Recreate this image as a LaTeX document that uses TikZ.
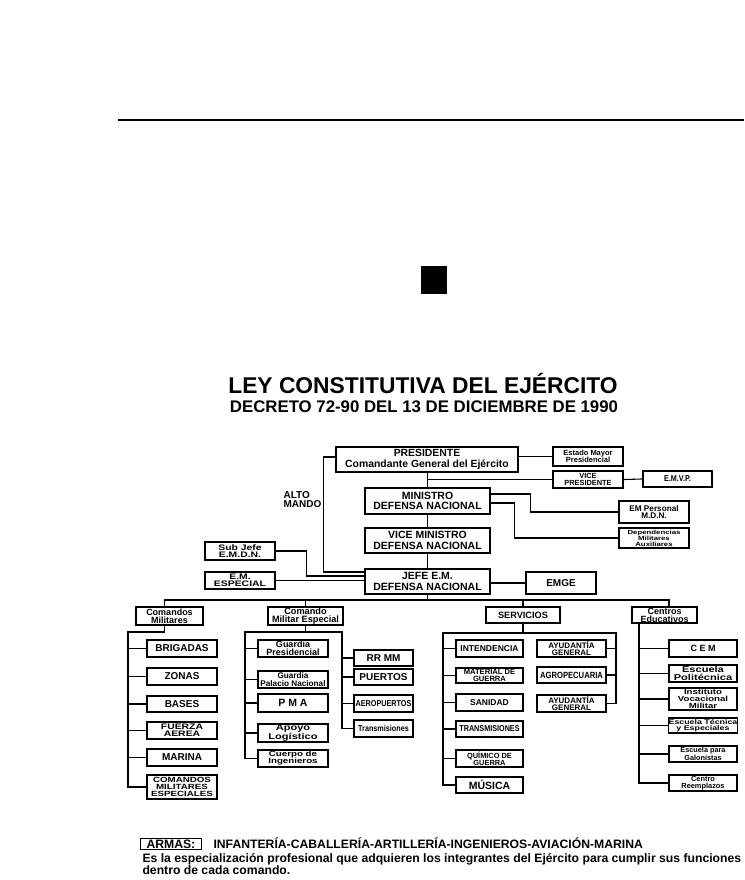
\documentclass[tikz,border=0pt]{standalone}
\usepackage{fontspec}
\setmainfont{Liberation Sans}
\newfontfamily\narrowfont[FakeStretch=0.85]{Liberation Sans}
\newfontfamily\widefont[FakeStretch=1.3]{Liberation Sans}
\newcommand\fz[2]{\fontsize{#1}{#2}\selectfont}

\begin{document}
\begin{tikzpicture}[x=1pt, y=-1pt,
    org/.style={draw, line width=1.4pt, inner sep=0pt, align=center, font=\bfseries},
    heavy/.style={org, line width=2.6pt},
    link/.style={line width=1.1pt},
    sz/.style 2 args={font=\bfseries\fz{#1}{#2}},
    nsz/.style 2 args={font=\narrowfont\bfseries\fz{#1}{#2}},
    wsz/.style 2 args={font=\widefont\bfseries\fz{#1}{#2}},
    cmcol/.style={org, minimum width=70, minimum height=17},
    mecol/.style={org, minimum width=59, minimum height=17},
    svcol/.style={org, minimum width=67, minimum height=17},
    aycol/.style={org, minimum width=69, minimum height=17},
    cecol/.style={org, minimum width=68, minimum height=16}]
    \fill[white] (0,0) rectangle (744,880);
    \useasboundingbox (0,0) rectangle (744,880);
    % page rule and mark
    \draw[line width=1.6pt] (118,120) -- (744,120);
    \fill (421,266) rectangle (447,294);
    % Title
    \node[anchor=base, font=\bfseries\fz{22.8}{24}] (title) at (423,393) {LEY CONSTITUTIVA DEL EJÉRCITO};
    \node[anchor=base, font=\bfseries\fz{16.8}{18}] (subtitle) at (424,412) {DECRETO 72-90 DEL 13 DE DICIEMBRE DE 1990};
    % Alto mando
    \node[heavy, minimum width=182, minimum height=25, sz={10.4}{10.5}] (pres) at (427,459.5) {PRESIDENTE\\Comandante General del Ejército};
    \node[heavy, line width=2pt, minimum width=70, minimum height=19, sz={7.5}{7}] (emp) at (588,456.5) {Estado Mayor\\Presidencial};
    \node[heavy, line width=2.2pt, minimum width=70, minimum height=17, sz={7.4}{6.8}] (vpres) at (588,479.5) {VICE\\PRESIDENTE};
    \node[heavy, line width=2pt, minimum width=69, minimum height=16, nsz={8.5}{8}] (emvp) at (677.5,479) {E.M.V.P.};
    \node[heavy, line width=2.8pt, minimum width=125, minimum height=26, sz={10.5}{10.5}] (min) at (427.5,501) {MINISTRO\\DEFENSA NACIONAL};
    \node[heavy, minimum width=70, minimum height=22, sz={8.2}{7.5}] (empers) at (654,512) {EM Personal\\M.D.N.};
    \node[heavy, minimum width=70, minimum height=20, wsz={6}{5.5}] (depmil) at (654,538) {Dependencias\\Militares\\Auxiliares};
    \node[heavy, line width=2pt, minimum width=125, minimum height=25, sz={10.5}{10.5}] (vmin) at (427.5,540.5) {VICE MINISTRO\\DEFENSA NACIONAL};
    \node[heavy, minimum width=125, minimum height=25, sz={10.5}{10.5}] (jefe) at (427.5,581.5) {JEFE E.M.\\DEFENSA NACIONAL};
    \node[heavy, minimum width=70, minimum height=18, wsz={8}{7}] (subjefe) at (240,551) {Sub Jefe\\E.M.D.N.};
    \node[org, minimum width=70, minimum height=17, wsz={8}{7}] (emesp) at (240,580.5) {E.M.\\ESPECIAL};
    \node[heavy, line width=2.2pt, minimum width=70, minimum height=22, sz={10}{10}] (emge) at (561,583) {EMGE};
    \node[anchor=west, align=left, sz={10}{9}] (alto) at (280,500) {ALTO\\MANDO};
    % Second level
    \node[org, minimum width=67, minimum height=18, sz={9}{8}] (cmil) at (169.5,616) {Comandos\\Militares};
    \node[org, minimum width=75, minimum height=18, sz={9.2}{8}] (cme) at (305.5,616) {Comando\\Militar Especial};
    \node[org, minimum width=74, minimum height=16, sz={9.2}{9}] (serv) at (523,615) {SERVICIOS};
    \node[org, minimum width=65, minimum height=16, sz={9}{8}] (cedu) at (664.5,615) {Centros\\Educativos};
    % Comandos militares
    \node[cmcol, sz={10}{9}] (brig) at (182,648.5) {BRIGADAS};
    \node[cmcol, sz={10}{9}] (zonas) at (182,676.5) {ZONAS};
    \node[cmcol, minimum height=16, sz={10}{9}] (bases) at (182,704) {BASES};
    \node[cmcol, wsz={8}{7}] (fuerza) at (182,730.5) {FUERZA\\AEREA};
    \node[cmcol, sz={10}{9}] (marina) at (182,757.5) {MARINA};
    \node[cmcol, minimum height=24, wsz={7.5}{6.8}] (cmesp) at (182,787) {COMANDOS\\MILITARES\\ESPECIALES};
    % Comando militar especial
    \node[cmcol, sz={9}{7.5}] (gpres) at (293,648.5) {Guardia\\Presidencial};
    \node[cmcol, sz={8.2}{7.2}] (gpal) at (293,679.5) {Guardia\\Palacio Nacional};
    \node[cmcol, minimum height=18, sz={10.5}{9}] (pma) at (293,703) {P M A};
    \node[cmcol, minimum height=18, wsz={8.5}{7.5}] (apoyo) at (293,733) {Apoyo\\Logístico};
    \node[cmcol, wsz={7.5}{7}] (cuerpo) at (293,758.5) {Cuerpo de\\Ingenieros};
    \node[mecol, minimum height=16, sz={10}{9}] (rrmm) at (383.5,658) {RR MM};
    \node[mecol, minimum height=16, sz={10}{9}] (puertos) at (383.5,677) {PUERTOS};
    \node[mecol, nsz={8.5}{8}] (aerop) at (383.5,703.5) {AEROPUERTOS};
    \node[mecol, nsz={8.5}{8}] (trans) at (383.5,728.5) {Transmisiones};
    % Servicios
    \node[svcol, sz={8.5}{8}] (inten) at (489.5,648.5) {INTENDENCIA};
    \node[svcol, minimum height=15, sz={7.6}{6.8}] (mater) at (489.5,675.5) {MATERIAL DE\\GUERRA};
    \node[svcol, sz={8.5}{8}] (sanid) at (489.5,702.5) {SANIDAD};
    \node[svcol, minimum height=16, nsz={8.5}{8}] (transm) at (489.5,729) {TRANSMISIONES};
    \node[svcol, sz={7.4}{6.8}] (quim) at (489.5,758.5) {QUÍMICO DE\\GUERRA};
    \node[svcol, minimum height=16, sz={10.5}{9}] (musica) at (489.5,785) {MÚSICA};
    \node[aycol, sz={8}{6.8}] (ayud1) at (571.5,648.5) {AYUDANTÍA\\GENERAL};
    \node[aycol, minimum height=16, nsz={9}{8}] (agro) at (571.5,675) {AGROPECUARIA};
    \node[aycol, sz={8}{6.8}] (ayud2) at (571.5,703.5) {AYUDANTÍA\\GENERAL};
    % Centros educativos
    \node[cecol, minimum height=17, sz={9}{8}] (cem) at (703,648.5) {C E M};
    \node[cecol, minimum height=17, wsz={8.5}{7.2}] (epol) at (703,673.5) {Escuela\\Politécnica};
    \node[cecol, minimum height=22, line width=2pt, wsz={7.4}{7}] (ivm) at (703,699) {Instituto\\Vocacional\\Militar};
    \node[cecol, minimum height=15, wsz={6.8}{6.2}] (etec) at (703,725.5) {Escuela Técnica\\y Especiales};
    \node[cecol, sz={7.3}{6.8}] (egal) at (703,754) {Escuela para\\Galonistas};
    \node[cecol, sz={7.4}{6.8}] (creem) at (703,783) {Centro\\Reemplazos};
    % Links, upper part
    \draw[link] ([yshift=2.5]pres.west) -- ++(-11.5,0) |- ([yshift=9.5]jefe.west);
    \draw[link] (min.north) -- (min.north |- pres.south);
    \draw[link] (vmin.north) -- (min.south);
    \draw[link] (jefe.north) -- (vmin.south);
    \draw[link] (pres.east |- emp.west) -- (emp.west);
    \draw[link] (pres.south |- vpres.west) -- (vpres.west);
    \draw[link] (vpres.east) -- (emvp.west);
    \draw[link] ([yshift=7]min.east) -- ++(39,0) |- (empers.west);
    \draw[link] ([yshift=-2]min.east) -- ++(23,0) |- (depmil.west);
    \draw[link] (subjefe.east) -- ++(30,0) |- ([yshift=5.5]jefe.west);
    \draw[link] (emesp.east) -- (emesp.east -| jefe.west);
    \draw[link] (jefe.east |- emge.west) -- (emge.west);
    % Links, bus
    \coordinate (bus) at (427.5,600);
    \draw[link] (jefe.south) -- (bus);
    \draw[link] ([xshift=-5]cmil.north) |- (bus) -| ([xshift=4.5]cedu.north);
    \draw[link] (cme.north) -- (cme.north |- bus);
    \draw[link] (serv.north) -- (serv.north |- bus);
    % Links, comandos militares
    \coordinate (cmsp) at (128,632);
    \draw[link] ([xshift=-5]cmil.south) |- (cmsp) |- (cmesp.west);
    \foreach \n in {brig,zonas,bases,fuerza,marina}
        \draw[link] (\n.west) -- (\n.west -| cmsp);
    % Links, comando militar especial
    \coordinate (cmel) at (245,632);
    \coordinate (cmer) at (342,632);
    \draw[link] (cme.south) -- (cme.south |- cmel);
    \draw[link] (cuerpo.west) -| (cmel) -- (cmer) |- (trans.west);
    \foreach \n in {gpres,gpal,pma,apoyo}
        \draw[link] (\n.west) -- (\n.west -| cmel);
    \foreach \n in {rrmm,puertos,aerop}
        \draw[link] (\n.west) -- (\n.west -| cmer);
    % Links, servicios
    \coordinate (svl) at (443,633);
    \coordinate (svr) at (616,633);
    \draw[link] (serv.south) -- (serv.south |- svl);
    \draw[link] (musica.west) -| (svl) -- (svr) |- (ayud2.east);
    \foreach \n in {inten,mater,sanid,transm,quim}
        \draw[link] (\n.west) -- (\n.west -| svl);
    \foreach \n in {ayud1,agro}
        \draw[link] (\n.east) -- (\n.east -| svr);
    % Links, centros educativos
    \coordinate (cesp) at (639,623);
    \draw[link] (cesp) |- (creem.west);
    \foreach \n in {cem,epol,ivm,etec,egal}
        \draw[link] (\n.west) -- (\n.west -| cesp);
    % Armas
    \node[draw, line width=1pt, inner xsep=6, inner ysep=1.2, anchor=base west, sz={12.2}{10}] (armas) at (140,848) {ARMAS:};
    \node[anchor=base west, sz={12.2}{10}] (armlist) at (210,848) {INFANTERÍA-CABALLERÍA-ARTILLERÍA-INGENIEROS-AVIACIÓN-MARINA};
    \node[anchor=base west, sz={12.2}{10}] (armdef) at (139,862) {Es la especialización profesional que adquieren los integrantes del Ejército para cumplir sus funciones};
    \node[anchor=base west, sz={12.2}{10}] (armdef2) at (139,874.5) {dentro de cada comando.};
\end{tikzpicture}
\end{document}
